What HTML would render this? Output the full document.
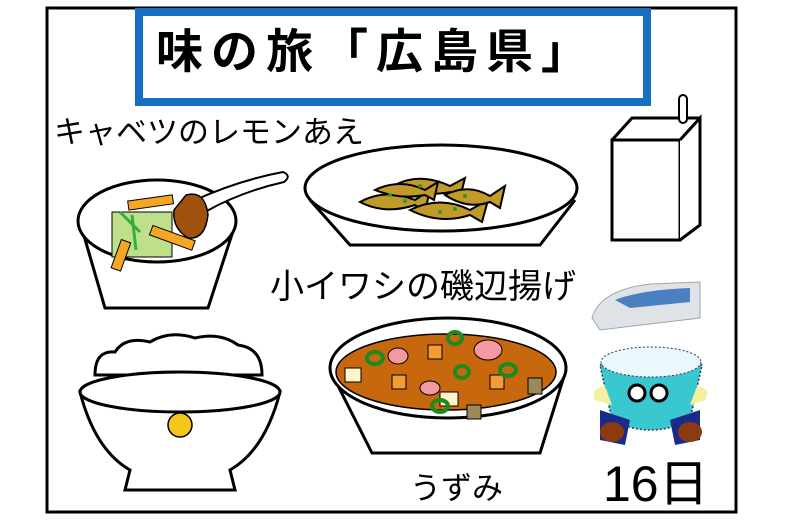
<!DOCTYPE html>
<html><head><meta charset="utf-8"><style>
html,body{margin:0;padding:0;background:#fff}
svg{display:block}
text{font-family:"Liberation Sans","Noto Sans CJK JP",sans-serif}
</style></head><body>
<svg width="785" height="523" viewBox="0 0 785 523" xmlns="http://www.w3.org/2000/svg">
<rect x="0" y="0" width="785" height="523" fill="#fff"/>
<rect x="47" y="8" width="689" height="504" fill="none" stroke="#000" stroke-width="3"/>
<rect x="139" y="12" width="508" height="90" fill="#fff" stroke="#1670bf" stroke-width="8"/>
<text x="376" y="68" font-size="47" font-weight="bold" text-anchor="middle" letter-spacing="8" fill="#000">味の旅「広島県」</text>

<text x="54" y="143" font-size="31" fill="#000">キャベツのレモンあえ</text>
<!-- cabbage bowl -->
<path d="M80 222 L105 308 L208 308 L236 222" fill="#fff" stroke="#000" stroke-width="3"/>
<ellipse cx="157" cy="221" rx="79" ry="41" fill="#fff" stroke="#000" stroke-width="3"/>
<g stroke="#000" stroke-width="1">
<rect x="112" y="212" width="60" height="45" fill="#bfe08a"/>
<rect x="128" y="198" width="45" height="9" fill="#f5a623" transform="rotate(-8 150 202)"/>
<rect x="150" y="232" width="45" height="10" fill="#f5a623" transform="rotate(20 170 237)"/>
<rect x="116" y="240" width="10" height="30" fill="#f5a623" transform="rotate(20 120 255)"/>
</g>
<path d="M120 212 L140 232 M132 215 L136 250" stroke="#30b040" stroke-width="3"/>
<path d="M195 200 Q240 180 283 172 Q292 176 284 182 Q240 192 205 212 Z" fill="#fff" stroke="#000" stroke-width="2"/>
<path d="M186 195 Q205 190 208 215 Q205 240 188 238 Q172 228 174 210 Z" fill="#a0520d" stroke="#000" stroke-width="1.5"/>

<!-- fish plate -->
<path d="M310 200 L350 245 L540 245 L575 200" fill="#fff" stroke="#000" stroke-width="3"/>
<ellipse cx="441" cy="188" rx="136" ry="43" fill="#fff" stroke="#000" stroke-width="3"/>
<g fill="#c29a2a" stroke="#000" stroke-width="2">
<path d="M360 202 Q385 188 415 200 L430 190 L425 212 L415 205 Q385 215 360 202Z"/>
<path d="M395 185 Q420 172 450 186 L465 178 L460 198 L450 192 Q420 198 395 185Z"/>
<path d="M375 190 Q400 178 425 190 L438 182 L434 200 L425 195 Q400 200 375 190Z"/>
<path d="M410 210 Q440 195 470 210 L488 200 L482 222 L470 215 Q440 225 410 210Z"/>
<path d="M445 195 Q468 183 490 196 L505 186 L500 208 L490 202 Q468 210 445 195Z"/>
</g>
<g fill="#2a9a2a"><circle cx="390" cy="195" r="2"/><circle cx="420" cy="186" r="2"/><circle cx="440" cy="212" r="2"/><circle cx="465" cy="196" r="2"/><circle cx="405" cy="201" r="2"/><circle cx="455" cy="209" r="2"/></g>
<text x="270" y="298" font-size="34" fill="#000">小イワシの磯辺揚げ</text>

<!-- milk carton -->
<path d="M612 140 L680 140 L680 240 L612 240 Z" fill="#fff" stroke="#000" stroke-width="3"/>
<path d="M680 140 L700 118 L700 225 L680 240" fill="#fff" stroke="#000" stroke-width="3"/>
<path d="M612 140 L632 118 L700 118" fill="none" stroke="#000" stroke-width="3"/>
<rect x="679" y="95" width="8" height="28" rx="4" fill="#fff" stroke="#000" stroke-width="2"/>

<!-- train -->
<path d="M592 318 Q600 290 650 284 L700 282 L700 318 L600 330 Z" fill="#dfe3e8" stroke="#9aa" stroke-width="1"/>
<path d="M615 300 Q640 290 690 288 L690 302 L630 308 Z" fill="#4a7fc0"/>

<!-- rice bowl -->
<path d="M95 375 Q95 350 115 352 Q125 336 150 342 Q170 330 195 338 Q220 332 238 345 Q262 348 262 375 Z" fill="#fff" stroke="#000" stroke-width="3"/>
<path d="M80 392 Q95 450 130 470 L125 490 L235 490 L230 470 Q265 450 280 392 Z" fill="#fff" stroke="#000" stroke-width="3"/>
<ellipse cx="180" cy="392" rx="100" ry="20" fill="#fff" stroke="#000" stroke-width="3"/>
<circle cx="180" cy="425" r="12" fill="#f5c518" stroke="#000" stroke-width="1.5"/>

<!-- uzumi bowl -->
<path d="M330 370 L372 453 L540 453 L566 370" fill="#fff" stroke="#000" stroke-width="3"/>
<ellipse cx="448" cy="368" rx="118" ry="50" fill="#fff" stroke="#000" stroke-width="3"/>
<ellipse cx="446" cy="372" rx="110" ry="38" fill="#c8680e" stroke="#000" stroke-width="1.5"/>
<g stroke="#000" stroke-width="1">
<rect x="345" y="368" width="16" height="14" fill="#fff4cc"/>
<rect x="428" y="345" width="14" height="14" fill="#f39c34"/>
<rect x="392" y="375" width="14" height="14" fill="#f39c34"/>
<rect x="490" y="375" width="14" height="14" fill="#f39c34"/>
<rect x="440" y="392" width="18" height="14" fill="#fff4cc"/>
<rect x="467" y="405" width="14" height="14" fill="#9a8a5a"/>
<rect x="528" y="378" width="14" height="16" fill="#9a8a5a"/>
<ellipse cx="398" cy="356" rx="10" ry="8" fill="#f39aa0"/>
<ellipse cx="488" cy="350" rx="14" ry="10" fill="#f39aa0"/>
<ellipse cx="430" cy="388" rx="10" ry="7" fill="#f39aa0"/>
</g>
<g fill="none" stroke="#1e8a1e" stroke-width="4">
<ellipse cx="375" cy="358" rx="8" ry="6"/><ellipse cx="455" cy="338" rx="7" ry="6"/>
<ellipse cx="462" cy="372" rx="7" ry="6"/><ellipse cx="508" cy="370" rx="8" ry="6"/>
<ellipse cx="440" cy="406" rx="8" ry="6"/>
</g>
<text x="410" y="499" font-size="31" fill="#000">うずみ</text>

<!-- character -->
<path d="M600 365 Q650 340 702 365 L690 420 Q650 440 612 420 Z" fill="#3ac8d0" stroke="#336" stroke-width="1.5" stroke-dasharray="2 2"/>
<ellipse cx="651" cy="362" rx="50" ry="15" fill="#eaf7fb" stroke="#336" stroke-width="1" stroke-dasharray="2 2"/>
<circle cx="637" cy="393" r="8" fill="#fff" stroke="#000" stroke-width="3"/>
<circle cx="659" cy="393" r="8" fill="#fff" stroke="#000" stroke-width="3"/>
<path d="M595 400 Q590 388 605 386 L612 405 Z" fill="#f5f0a0"/>
<path d="M705 400 Q712 388 697 386 L690 405 Z" fill="#f5f0a0"/>
<path d="M600 410 L630 420 L625 445 L600 440 Z" fill="#1a2a8a"/>
<path d="M700 410 L670 420 L675 445 L700 440 Z" fill="#1a2a8a"/>
<ellipse cx="612" cy="432" rx="12" ry="10" fill="#8b3a12"/>
<ellipse cx="690" cy="432" rx="12" ry="10" fill="#8b3a12"/>

<text x="603" y="501" font-size="50" fill="#000">16日</text>
</svg>
</body></html>
